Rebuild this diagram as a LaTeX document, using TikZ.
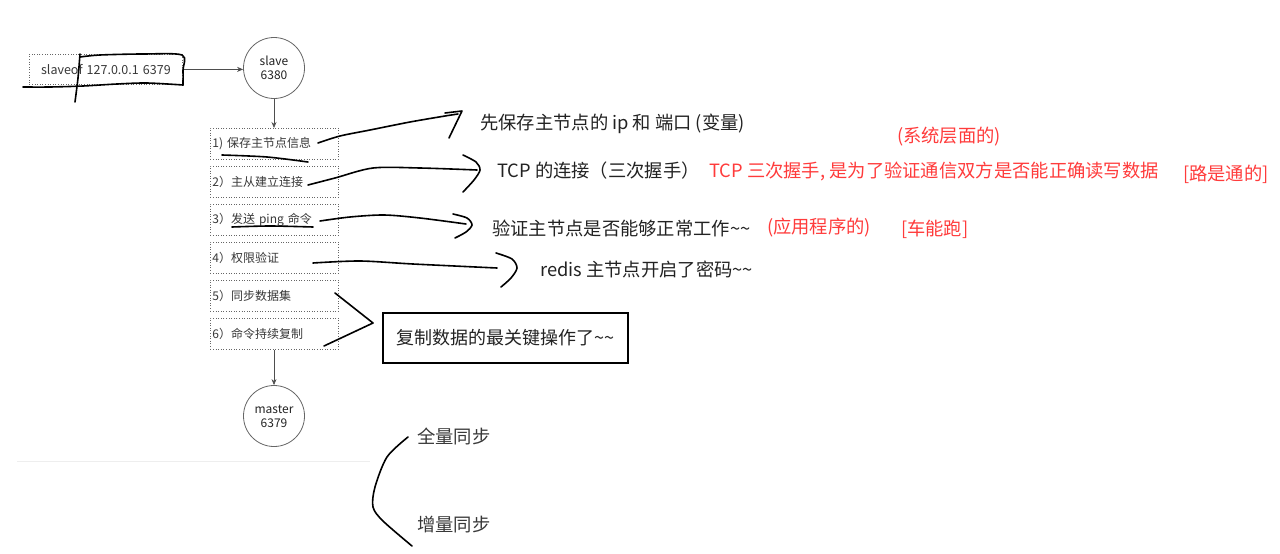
\documentclass[tikz,border=0pt]{standalone}
\usepackage{fontspec}
\setmainfont{Noto Sans CJK SC}
\usetikzlibrary{arrows.meta,calc}
\definecolor{redtxt}{HTML}{FF3B3B}
\definecolor{txt}{HTML}{222222}
\definecolor{boxline}{HTML}{666666}
\definecolor{rule}{HTML}{EEEEEE}
\newcommand{\tl}{\textasciitilde}
\begin{document}
\begin{tikzpicture}[x=1pt,y=-1pt,
  stepbox/.style={draw=boxline, line width=0.8pt, dash pattern=on 1pt off 1.6pt,
    minimum width=128pt, minimum height=31pt, text width=124pt, inner xsep=2pt,
    align=left, font=\fontsize{12}{14}\selectfont, text=txt!90, anchor=north west},
  circ/.style={circle, draw=boxline, line width=0.8pt, minimum size=61pt, inner sep=0pt,
    align=center, font=\fontsize{12}{14}\selectfont, text=txt},
  arr/.style={draw=txt!80, line width=0.7pt, -{Stealth[length=6pt,width=5pt]}},
  hand/.style={line width=1.6pt, line cap=round, line join=round, black},
  note/.style={anchor=west, inner sep=0pt, font=\fontsize{18.3}{21}\selectfont, text=txt},
  rnote/.style={note, text=redtxt}
]
\path[use as bounding box] (0,0) rectangle (1280,554);

% left column
\node[stepbox, minimum width=153pt, minimum height=30pt,
  text width=149pt, align=center, font=\fontsize{12.5}{14}\selectfont] (sb) at (29,54)
  {slaveof 127.0.0.1 6379};
\node[circ] (slave) at (274,68) {slave\\6380};
\node[circ] (master) at (274,416) {master\\6379};

\node[stepbox] (b1) at (210,128) {1) 保存主节点信息};
\node[stepbox] (b2) at (210,166) {2）主从建立连接};
\node[stepbox] (b3) at (210,204) {3）发送 ping 命令};
\node[stepbox] (b4) at (210,242) {4）权限验证};
\node[stepbox] (b5) at (210,280) {5）同步数据集};
\node[stepbox] (b6) at (210,318) {6）命令持续复制};

\draw[arr] (sb.east) -- (sb.east -| slave.west);
\draw[arr] (slave.south) -- (b1.north -| slave.south);
\draw[arr] (b6.south -| master.north) -- (master.north);

\draw[rule, line width=1pt] (17,461) -- (370,461);

% texts
\node[note] (t1) at (480,124) {先保存主节点的 ip 和 端口 (变量)};
\node[note] (t2) at (497,171) {TCP 的连接（三次握手）};
\node[rnote] (r0) at (897,137) {(系统层面的)};
\node[rnote] (r1) at (709,171) {TCP 三次握手, 是为了验证通信双方是否能正确读写数据};
\node[rnote] (r2) at (1183,174) {[路是通的]};
\node[note] (t3) at (492,228) {验证主节点是否能够正常工作\tl\tl};
\node[rnote] (r3) at (767,228) {(应用程序的)};
\node[rnote] (r4) at (901,229) {[车能跑]};
\node[note] (t4) at (540,269) {redis 主节点开启了密码\tl\tl};
\node[draw=black, line width=2pt, anchor=north west, minimum width=245pt, minimum height=50pt,
  inner sep=0pt, font=\fontsize{18}{20}\selectfont, text=txt] (key) at (382,312)
  {复制数据的最关键操作了\tl\tl};
\node[note, text=txt!90] (full) at (417,436) {全量同步};
\node[note, text=txt!90] (incr) at (417,525) {增量同步};

% hand-drawn strokes
\draw[hand] plot[smooth] coordinates {(80,54) (78,78) (75,102)};
\draw[hand] plot[smooth] coordinates {(80,57) (100,55) (143,54) (182,55) (183,70) (183,85)};
\draw[hand] plot[smooth] coordinates {(183,85) (147,83) (117,84) (83,86) (50,87) (23,87)};

\draw[hand] plot[smooth] coordinates {(222,155) (267,157) (308,162)};
\draw[hand] plot[smooth] coordinates {(318,143) (340,136) (370,130) (410,122) (445,116) (458,114)};
\draw[hand] (445,113) -- (462,111) -- (449,138);

\draw[hand] plot[smooth] coordinates {(308,185) (335,178) (373,168) (420,168) (477,170)};
\draw[hand] plot[smooth] coordinates {(463,155) (476,162) (480,170) (474,180) (463,192)};

\draw[hand] plot[smooth] coordinates {(232,227) (270,226) (313,227)};
\draw[hand] plot[smooth] coordinates {(320,221) (350,217) (384,215) (420,218) (466,224)};
\draw[hand] plot[smooth] coordinates {(453,214) (467,218) (472,225) (466,232) (455,238)};

\draw[hand] plot[smooth] coordinates {(313,263) (360,261) (413,264) (497,268)};
\draw[hand] plot[smooth] coordinates {(496,253) (512,259) (517,268) (511,278) (501,287)};

\draw[hand] (335,293) -- (373,323) -- (324,346);

\draw[hand] plot[smooth] coordinates {(408,437) (387,457) (375,487) (373,507) (383,521) (412,546)};
\end{tikzpicture}
\end{document}
